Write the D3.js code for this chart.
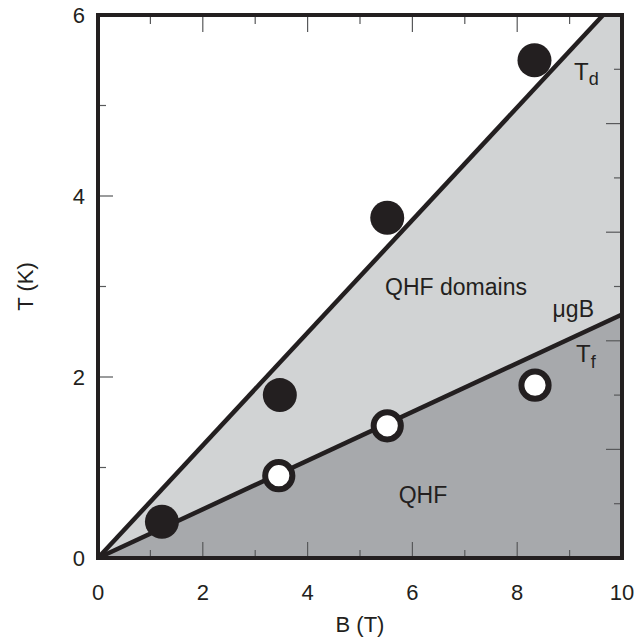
<!DOCTYPE html>
<html>
<head>
<meta charset="utf-8">
<script src="https://cdn.jsdelivr.net/npm/d3@7"></script>
<style>
  html, body { margin: 0; padding: 0; background: #fff; }
  svg { display: block; }
  text { font-family: "Liberation Sans", Arial, Helvetica, sans-serif; fill: #231f20; }
</style>
</head>
<body>
<script>
// Phase boundaries (B in tesla, T in kelvin)
const tdLine = [[0, 0], [9.64, 6]];
const tfLine = [[0, 0], [10, 2.69]];

// Measured domain temperature (filled) and freezing temperature (open)
const tdB = [1.22, 3.47, 5.52, 8.33];
const tdT = [0.40, 1.80, 3.76, 5.50];
const tfB = [3.45, 5.52, 8.34];
const tfT = [0.91, 1.46, 1.91];

// Axis ticks
const xMajor = [0, 2, 4, 6, 8, 10];
const xMinor = [1, 3, 5, 7, 9];
const yMajor = [0, 2, 4, 6];
const yMinor = [1, 3, 5];
const rightTicks = [0.6, 1.2, 1.8, 2.4, 3.0, 3.6, 4.2, 4.8, 5.4];

const W = 638, H = 639;
const plotL = 98, plotR = 622, plotT = 15, plotB = 558;
const ink = "#231f20";

const svg = d3.select("body").append("svg").attr("width", W).attr("height", H);

const x = d3.scaleLinear().domain([0, 10]).range([plotL, plotR]);
const y = d3.scaleLinear().domain([0, 6]).range([plotB, plotT]);

const line = d3.line().x(d => x(d[0])).y(d => y(d[1]));

// Shaded regions
const tdEnd = tdLine[1], tfEnd = tfLine[1];
svg.append("path")
  .attr("d", line([[0, 0], tdEnd, [10, 6], tfEnd]) + "Z")
  .attr("fill", "#d1d3d4");
svg.append("path")
  .attr("d", line([[0, 0], tfEnd, [10, 0]]) + "Z")
  .attr("fill", "#a7a9ac");

// Boundary lines
[tdLine, tfLine].forEach(l => {
  svg.append("path").attr("d", line(l))
    .attr("fill", "none").attr("stroke", ink).attr("stroke-width", 4.5);
});

// Ticks (drawn inward)
const tickG = svg.append("g").attr("stroke", "#58595b").attr("stroke-width", 1.2);
function ticks(vals, len, side) {
  vals.forEach(v => {
    if (side === "bottom") tickG.append("line").attr("x1", x(v)).attr("x2", x(v)).attr("y1", plotB).attr("y2", plotB - len);
    if (side === "top") tickG.append("line").attr("x1", x(v)).attr("x2", x(v)).attr("y1", plotT).attr("y2", plotT + len);
    if (side === "left") tickG.append("line").attr("x1", plotL).attr("x2", plotL + len).attr("y1", y(v)).attr("y2", y(v));
    if (side === "right") tickG.append("line").attr("x1", plotR).attr("x2", plotR - len).attr("y1", y(v)).attr("y2", y(v));
  });
}
ticks(xMajor.slice(1, -1), 16, "bottom");
ticks(xMinor, 8, "bottom");
ticks(xMajor.slice(1, -1), 17, "top");
ticks(xMinor, 9, "top");
ticks(yMajor.slice(1, -1), 15, "left");
ticks(yMinor, 8, "left");
rightTicks.forEach((v, i) => ticks([v], i % 2 === 1 ? 16 : 8, "right"));

// Data points
svg.append("g").selectAll("circle").data(tdB.map((b, i) => [b, tdT[i]])).join("circle")
  .attr("cx", d => x(d[0])).attr("cy", d => y(d[1])).attr("r", 17).attr("fill", ink);
svg.append("g").selectAll("circle").data(tfB.map((b, i) => [b, tfT[i]])).join("circle")
  .attr("cx", d => x(d[0])).attr("cy", d => y(d[1])).attr("r", 13.6)
  .attr("fill", "#fff").attr("stroke", ink).attr("stroke-width", 6);

// Frame
svg.append("rect").attr("x", plotL).attr("y", plotT).attr("width", plotR - plotL).attr("height", plotB - plotT)
  .attr("fill", "none").attr("stroke", ink).attr("stroke-width", 4);

// Tick labels
svg.append("g").selectAll("text").data(xMajor).join("text")
  .attr("x", d => x(d)).attr("y", 600).attr("text-anchor", "middle")
  .attr("font-size", 22).text(d => d);
svg.append("g").selectAll("text").data(yMajor).join("text")
  .attr("x", 85).attr("y", d => y(d) + 8).attr("text-anchor", "end")
  .attr("font-size", 22).text(d => d);

// Axis titles
svg.append("text").attr("x", (plotL + plotR) / 2).attr("y", 632).attr("text-anchor", "middle")
  .attr("font-size", 22).text("B (T)");
svg.append("text").attr("transform", `translate(33,${(plotT + plotB) / 2}) rotate(-90)`)
  .attr("text-anchor", "middle").attr("font-size", 22).text("T (K)");

// Region and curve labels
svg.append("text").attr("x", 456).attr("y", 295).attr("text-anchor", "middle")
  .attr("font-size", 23).text("QHF domains");
svg.append("text").attr("x", 423).attr("y", 503).attr("text-anchor", "middle")
  .attr("font-size", 23).text("QHF");
svg.append("text").attr("x", 594).attr("y", 317).attr("text-anchor", "end")
  .attr("font-size", 23).text("μgB");
const tdLab = svg.append("text").attr("x", 574).attr("y", 80).attr("font-size", 24);
tdLab.append("tspan").text("T");
tdLab.append("tspan").attr("dy", 5).attr("font-size", 18).text("d");
const tfLab = svg.append("text").attr("x", 576).attr("y", 362).attr("font-size", 24);
tfLab.append("tspan").text("T");
tfLab.append("tspan").attr("dy", 6).attr("font-size", 18).text("f");
</script>
</body>
</html>
